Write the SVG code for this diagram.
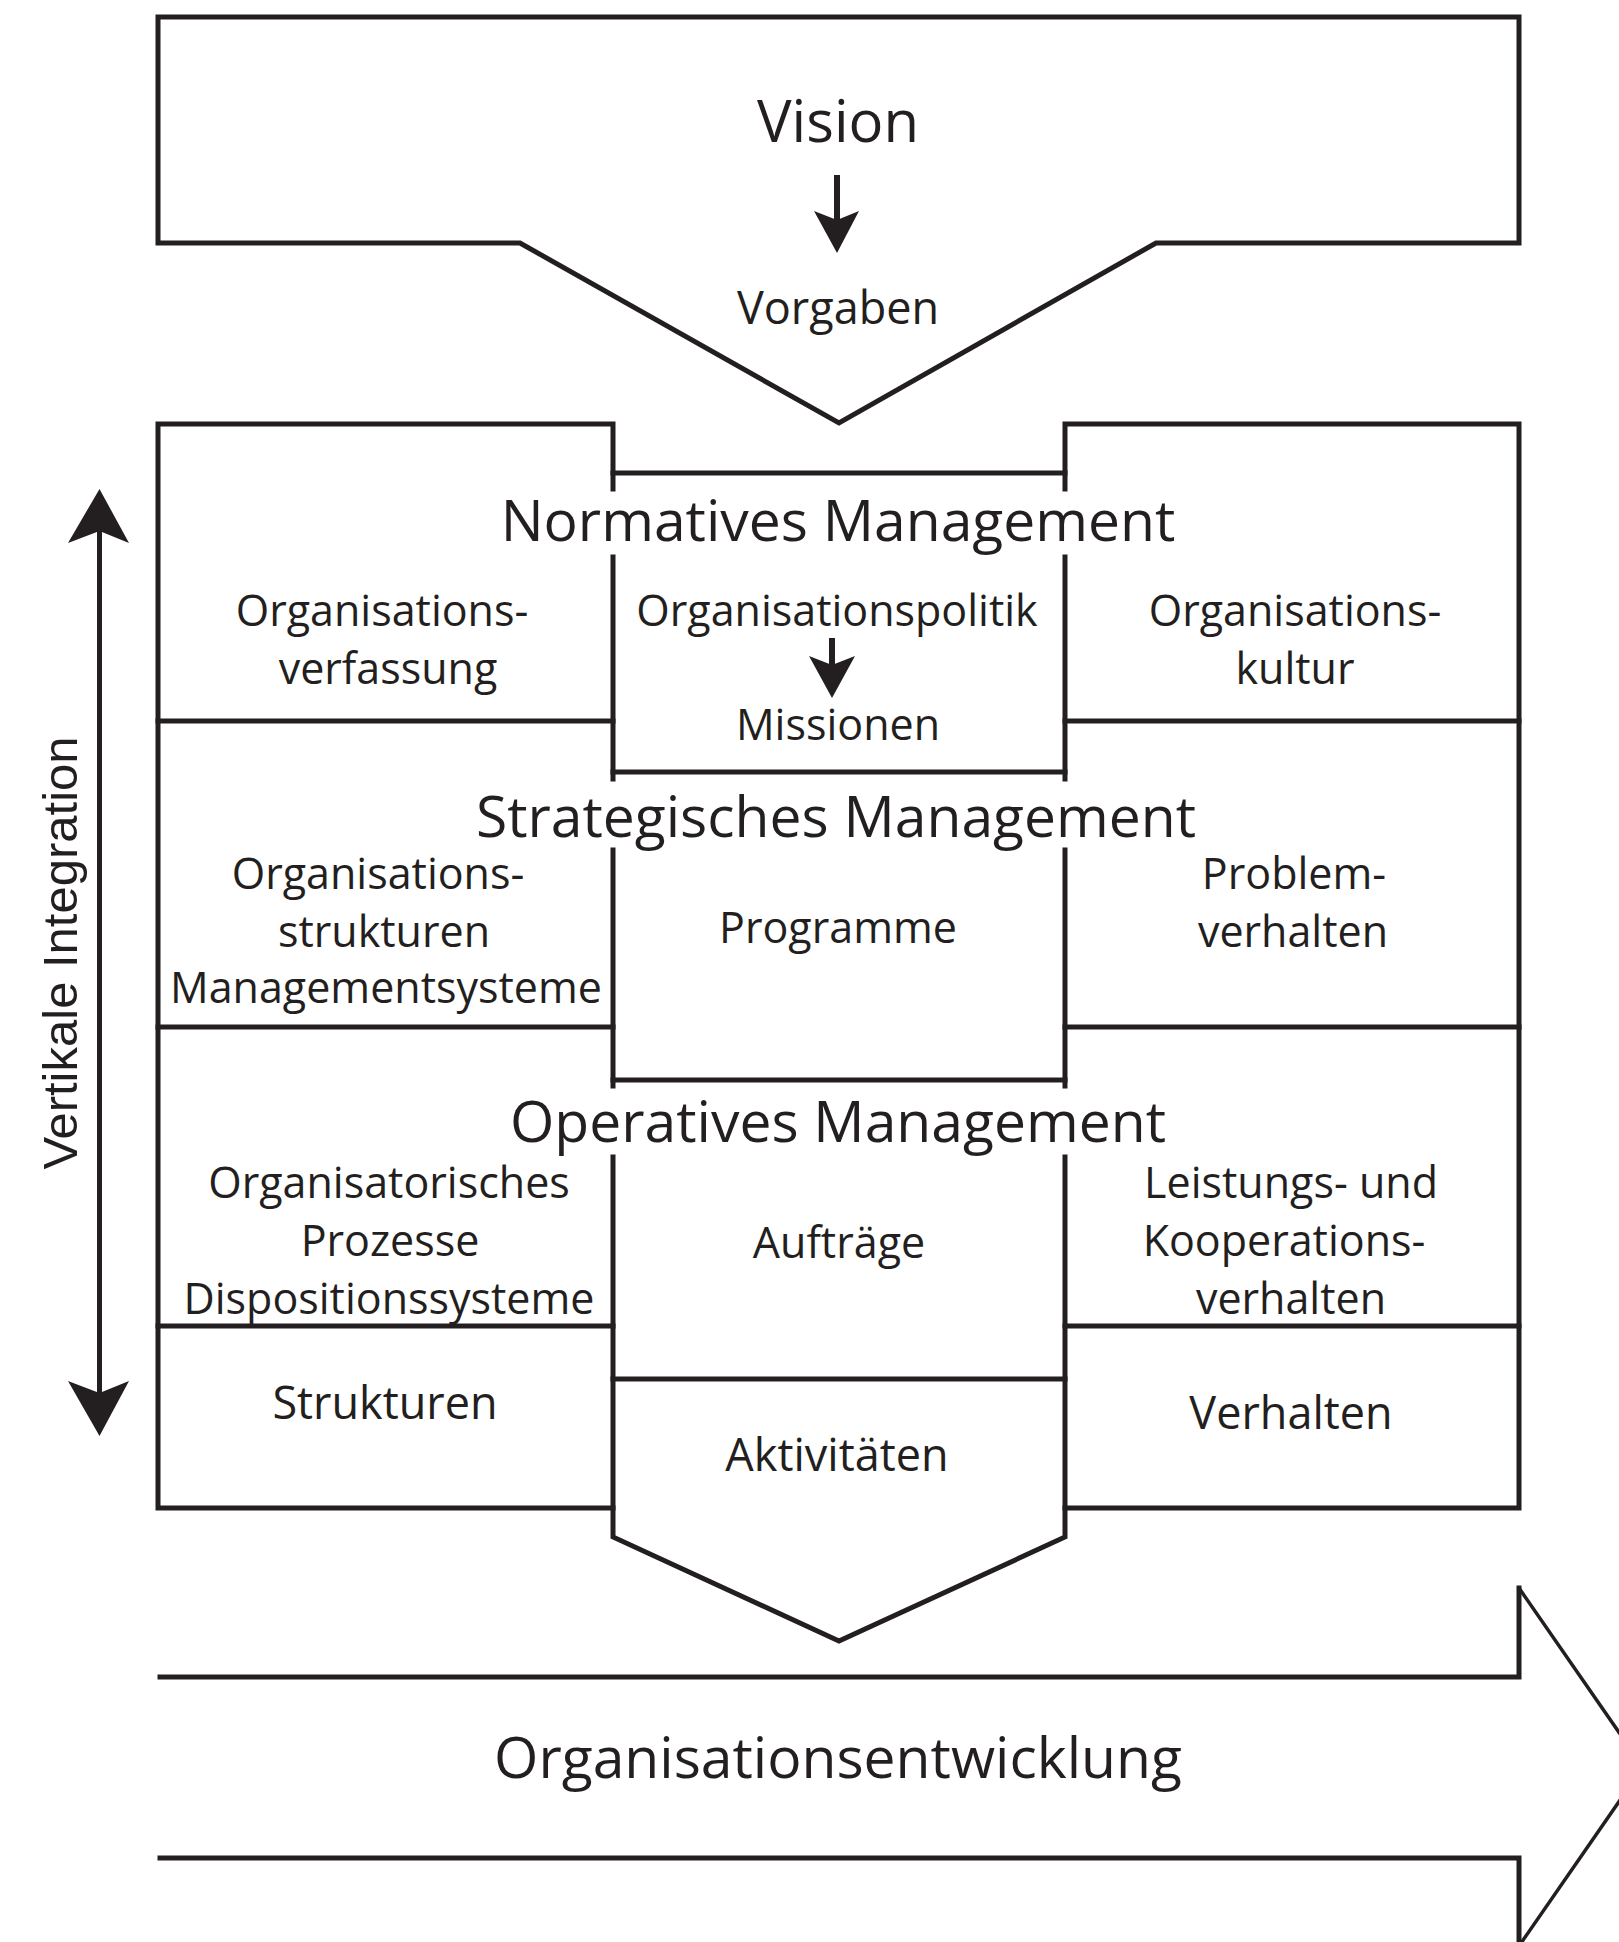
<svg xmlns="http://www.w3.org/2000/svg" width="1619" height="1942" viewBox="0 0 1619 1942">
<style>
.ln{fill:none;stroke:#231f20;stroke-width:5;stroke-linejoin:miter;stroke-linecap:square}
.thin{fill:none;stroke:#231f20;stroke-width:3.5}
.ah{fill:#231f20;stroke:none}
text{font-family:"Open Sans","Noto Sans","Liberation Sans",sans-serif;fill:#231f20;text-anchor:middle}
.h{font-size:57px}
.l{font-size:43px}
.b{font-size:45px}
.vi{font-family:"Liberation Sans",Arial,sans-serif;font-size:49px}
</style>
<rect width="1619" height="1942" fill="#fff"/>
<g id="vision">
<path class="ln" d="M520,243 L158,243 L158,17 L1519,17 L1519,243 L1156,243 L839,423 Z"/>
<text class="h" x="838" y="142" style="font-size:58px">Vision</text>
<text x="838" y="324" style="font-size:45px">Vorgaben</text>
</g>
<g id="frame">
<path class="ln" d="M613,489 L613,424 L158,424 L158,1508 L613,1508"/>
<path class="ln" d="M1065,489 L1065,424 L1519,424 L1519,1508 L1065,1508"/>
<path class="ln" d="M613,557 L613,779 M613,850 L613,1086 M613,1157 L613,1537 L839,1641 L1065,1537 L1065,1157 M1065,1086 L1065,850 M1065,779 L1065,557"/>
<path class="ln" d="M613,473 L1065,473 M613,772 L1065,772 M613,1080 L1065,1080 M613,1379 L1065,1379"/>
<path class="ln" d="M158,721 L613,721 M158,1027 L613,1027 M158,1326 L613,1326 M1065,721 L1519,721 M1065,1027 L1519,1027 M1065,1326 L1519,1326"/>
</g>
<g id="normativ">
<text class="h" x="838" y="541">Normatives Management</text>
<text class="l" x="382" y="626">Organisations-</text>
<text class="l" x="388" y="684">verfassung</text>
<text class="l" x="837" y="626">Organisationspolitik</text>
<text class="l" x="838" y="740">Missionen</text>
<text class="l" x="1295" y="626">Organisations-</text>
<text class="l" x="1295" y="684">kultur</text>
</g>
<g id="strategisch">
<text class="h" x="836" y="837">Strategisches Management</text>
<text class="l" x="378" y="889">Organisations-</text>
<text class="l" x="384" y="947">strukturen</text>
<text class="l" x="386" y="1003">Managementsysteme</text>
<text class="l" x="838" y="943">Programme</text>
<text class="l" x="1294" y="889">Problem-</text>
<text class="l" x="1293" y="947">verhalten</text>
</g>
<g id="operativ">
<text class="h" x="838" y="1142">Operatives Management</text>
<text class="l" x="389" y="1198">Organisatorisches</text>
<text class="l" x="390" y="1256">Prozesse</text>
<text class="l" x="389" y="1314">Dispositionssysteme</text>
<text class="l" x="839" y="1258">Aufträge</text>
<text class="l" x="1291" y="1198">Leistungs- und</text>
<text class="l" x="1284" y="1256">Kooperations-</text>
<text class="l" x="1291" y="1314">verhalten</text>
</g>
<g id="ebene4">
<text class="b" x="385" y="1419">Strukturen</text>
<text class="b" x="837" y="1471">Aktivitäten</text>
<text class="b" x="1291" y="1429">Verhalten</text>
</g>
<g id="entwicklung">
<path class="ln" d="M160,1677 L1519,1677 L1519,1588 M1519,1858 L160,1858 M1519,1858 L1519,1946"/>
<path class="thin" d="M1519,1588 L1643,1767 L1519,1946"/>
<text class="h" x="838" y="1778">Organisationsentwicklung</text>
</g>
<g id="integration">
<text class="vi" transform="translate(77,953) rotate(-90)">Vertikale Integration</text>
</g>
<g id="connectors">
<line class="ln" x1="837" y1="175" x2="837" y2="222" style="stroke-width:6;stroke-linecap:butt"/>
<path class="ah" d="M837,253 L814,211 L837,220 L859,211 Z"/>
<line class="ln" x1="832" y1="638" x2="832" y2="666" style="stroke-width:6;stroke-linecap:butt"/>
<path class="ah" d="M832,698 L809,656 L832,665 L855,656 Z"/>
<line class="ln" x1="99.5" y1="530" x2="99.5" y2="1394" style="stroke-width:5;stroke-linecap:butt"/>
<path class="ah" d="M99.5,489 L129,543 L99.5,531 L68,543 Z"/>
<path class="ah" d="M99.5,1436 L68,1381 L99.5,1393 L129,1381 Z"/>
</g>
</svg>
